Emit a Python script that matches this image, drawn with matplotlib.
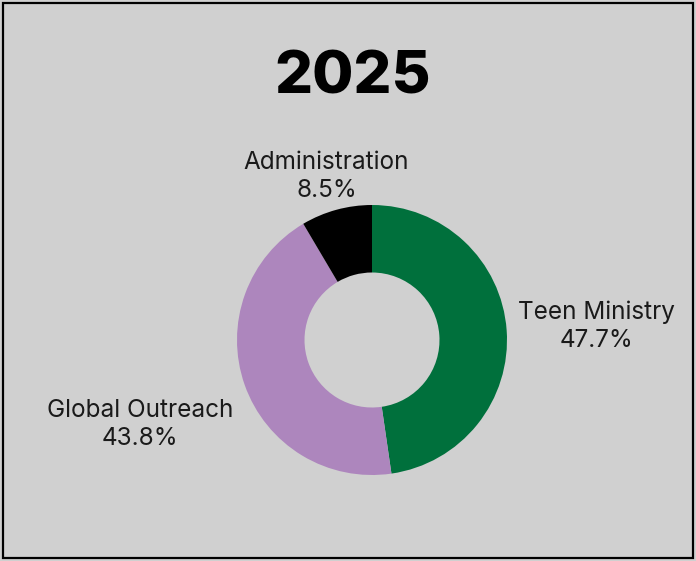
import matplotlib
matplotlib.use("Agg")
import matplotlib.pyplot as plt
import numpy as np
from matplotlib.patches import Rectangle

title = "2025"
categories = ["Teen Ministry", "Global Outreach", "Administration"]
values = [47.7, 43.8, 8.5]
colors = ["#00703c", "#ad86bd", "#000000"]
label_dist = [1.67, 1.82, 1.28]

plt.rcParams['font.family'] = ['Inter', 'DejaVu Sans']
W, H = 696, 561
fig = plt.figure(figsize=(W/100, H/100), dpi=100)
bg = "#d0d0d0"
fig.patch.set_facecolor(bg)
ax = fig.add_axes([0, 0, 1, 1])
ax.set_facecolor(bg)

cx, cy, r = 372, 340, 135
wedges, _ = ax.pie(values, colors=colors, startangle=90, counterclock=False,
                   radius=1, wedgeprops=dict(width=0.5, edgecolor='none'))
ax.set_xlim(-cx/r, (W-cx)/r)
ax.set_ylim(-(H-cy)/r, cy/r)
ax.axis('off')

for w, cat, v, d in zip(wedges, categories, values, label_dist):
    ang = np.deg2rad((w.theta1 + w.theta2) / 2)
    x, y = d*np.cos(ang), d*np.sin(ang) - 3/r
    ax.text(x, y, f"{cat}\n{v:.1f}%", ha='center', va='center', fontsize=17.5,
            color='#1a1a1a', linespacing=1.28)

fig.text(353/W, 1-78/H, title, ha='center', va='center', fontsize=43,
         fontweight='heavy', color='black')

fig.patches.append(Rectangle((3/W, 3/H), (W-6)/W, (H-6)/H, transform=fig.transFigure,
                             fill=False, edgecolor='black', linewidth=1.6))

fig.savefig("out.png", dpi=100, facecolor=bg)
